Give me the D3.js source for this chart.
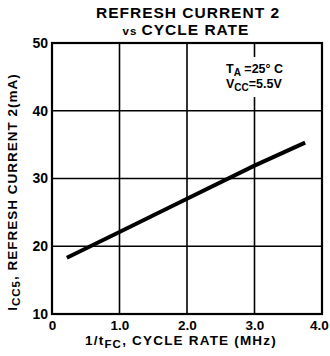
<!DOCTYPE html>
<html>
<head>
<meta charset="utf-8">
<script src="https://cdn.jsdelivr.net/npm/d3@7"></script>
<style>
  html, body { margin: 0; padding: 0; background: #fff; }
  svg { display: block; font-family: "Liberation Sans", Arial, Helvetica, sans-serif; }
</style>
</head>
<body>
<svg id="chart" width="330" height="356"></svg>
<script>
// Refresh current 2 versus cycle rate
const cycleRate = [0.22, 1.0, 2.0, 3.0, 3.75];          // MHz
const refreshCurrent = [18.3, 22.1, 27.0, 31.9, 35.3];  // mA
const xTicks = [0, 1, 2, 3, 4];
const xTickLabels = ["0", "1.0", "2.0", "3.0", "4.0"];
const yTicks = [10, 20, 30, 40, 50];
const yTickLabels = ["10", "20", "30", "40", "50"];

const svg = d3.select("#chart");
const m = { left: 52, top: 43, right: 322, bottom: 314 };

const x = d3.scaleLinear().domain([0, 4]).range([m.left, m.right]);
const y = d3.scaleLinear().domain([10, 50]).range([m.bottom, m.top]);

// Grid
const grid = svg.append("g").attr("stroke", "#000").attr("stroke-width", 1.6);
grid.selectAll("line.v").data(xTicks.slice(1, -1)).join("line")
  .attr("x1", d => x(d)).attr("x2", d => x(d))
  .attr("y1", m.top).attr("y2", m.bottom);
grid.selectAll("line.h").data(yTicks.slice(1, -1)).join("line")
  .attr("x1", m.left).attr("x2", m.right)
  .attr("y1", d => y(d)).attr("y2", d => y(d));

// Frame
svg.append("rect")
  .attr("x", m.left).attr("y", m.top)
  .attr("width", m.right - m.left).attr("height", m.bottom - m.top)
  .attr("fill", "none").attr("stroke", "#000").attr("stroke-width", 2.2);

// Axes (labels only; ticks are the grid)
const xAxis = d3.axisBottom(x).tickValues(xTicks)
  .tickFormat((d, i) => xTickLabels[i]).tickSize(0).tickPadding(6);
svg.append("g").attr("transform", `translate(0,${m.bottom})`).call(xAxis)
  .call(g => g.select(".domain").remove())
  .selectAll("text").attr("font-size", 13.5).attr("font-weight", "bold")
  .attr("font-family", "Liberation Sans, Arial, sans-serif").attr("fill", "#000")
  .attr("dx", (d, i) => i === xTicks.length - 1 ? -3 : 0);

const yAxis = d3.axisLeft(y).tickValues(yTicks)
  .tickFormat((d, i) => yTickLabels[i]).tickSize(0).tickPadding(4);
svg.append("g").attr("transform", `translate(${m.left},0)`).call(yAxis)
  .call(g => g.select(".domain").remove())
  .selectAll("text").attr("font-size", 14).attr("font-weight", "bold")
  .attr("font-family", "Liberation Sans, Arial, sans-serif").attr("fill", "#000");

// Annotation box masking the grid line
svg.append("rect").attr("x", 222).attr("y", 57).attr("width", 76).attr("height", 40).attr("fill", "#fff");
const ann = svg.append("g").attr("font-size", 12.5).attr("font-weight", "bold").attr("fill", "#000");
const t1 = ann.append("text").attr("x", 226).attr("y", 73);
t1.append("tspan").text("T");
t1.append("tspan").attr("font-size", 10).attr("dy", 3).text("A");
t1.append("tspan").attr("dy", -3).text(" =25° C");
const t2 = ann.append("text").attr("x", 226).attr("y", 88);
t2.append("tspan").text("V");
t2.append("tspan").attr("font-size", 10).attr("dy", 3).text("CC");
t2.append("tspan").attr("dy", -3).text("=5.5V");

// Data line
svg.append("path")
  .datum(cycleRate.map((d, i) => [d, refreshCurrent[i]]))
  .attr("fill", "none").attr("stroke", "#000").attr("stroke-width", 4)
  .attr("d", d3.line().x(d => x(d[0])).y(d => y(d[1])));

// Title
const title = svg.append("g").attr("text-anchor", "middle").attr("font-weight", "bold").attr("fill", "#000");
title.append("text").attr("x", 188).attr("y", 18).attr("font-size", 15.5).attr("letter-spacing", 1)
  .text("REFRESH CURRENT 2");
const sub = title.append("text").attr("x", 186).attr("y", 35).attr("font-size", 15.5).attr("letter-spacing", 1);
sub.append("tspan").attr("font-size", 11.5).text("vs ");
sub.append("tspan").text("CYCLE RATE");

// X axis title
const xt = svg.append("text").attr("x", 181).attr("y", 345).attr("text-anchor", "middle")
  .attr("font-size", 13.5).attr("font-weight", "bold").attr("letter-spacing", 1.2).attr("fill", "#000");
xt.append("tspan").text("1/t");
xt.append("tspan").attr("font-size", 11.5).attr("dy", 3).text("FC");
xt.append("tspan").attr("dy", -3).text(", CYCLE RATE (MHz)");

// Y axis title
const yt = svg.append("text").attr("transform", "translate(17,192) rotate(-90)").attr("text-anchor", "middle")
  .attr("font-size", 13.5).attr("font-weight", "bold").attr("letter-spacing", 1).attr("fill", "#000");
yt.append("tspan").text("I");
yt.append("tspan").attr("font-size", 11.5).attr("dy", 3).text("CC5");
yt.append("tspan").attr("dy", -3).text(", REFRESH CURRENT 2(mA)");
</script>
</body>
</html>
